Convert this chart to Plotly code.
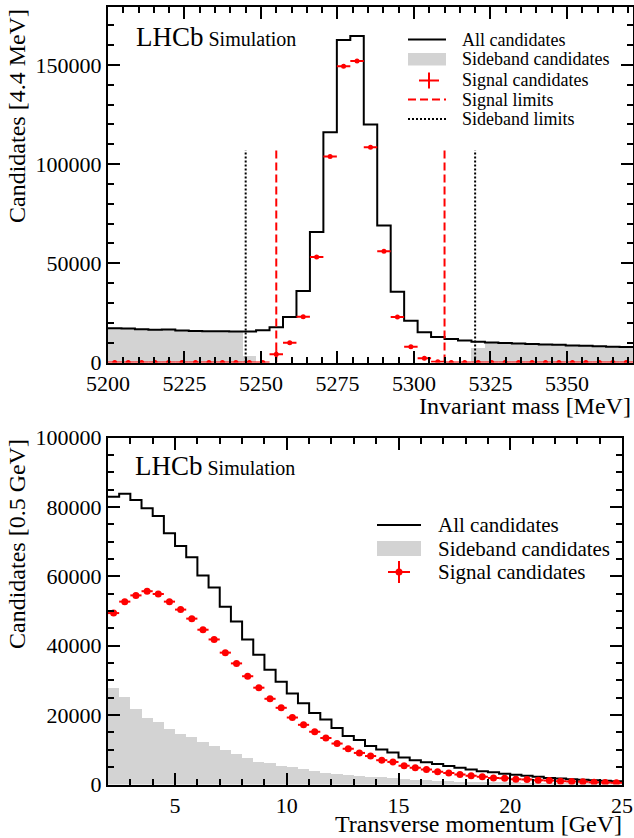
import plotly.graph_objects as go

W, H = 634, 838
FONT = "Liberation Serif"

# ---------------- data: top panel (invariant mass, 4.4 MeV bins) ----------------
mass_first_edge = 5200.0
mass_bin_width = 4.4
mass_all = [17300, 17100, 16700, 16500, 16600, 16100, 15900, 15800, 15700, 15600,
            15600, 16200, 17800, 22900, 36000, 65800, 116000, 162500, 164500, 120000,
            69000, 35600, 21000, 15200, 12800, 11800, 11100, 10500, 10100, 9800,
            9600, 9300, 9100, 8900, 8600, 8400, 8200, 8000, 7800]
mass_sideband = [17300, 17100, 16700, 16500, 16600, 16100, 15900, 15800, 15700, 15600,
                 3200, 0, 0, 0, 0, 0, 0, 0, 0, 0,
                 0, 0, 0, 0, 0, 0, 0, 7000, 10100, 9800,
                 9600, 9300, 9100, 8900, 8600, 8400, 8200, 8000, 7800]
mass_signal = [0, 0, 0, 0, 0, 0, 0, 0, 0, 0,
               0, 0, 4200, 10000, 23100, 53200, 103800, 149300, 151900, 108500,
               56100, 22900, 8000, 2200, 400, 0, 0, 0, 0, 0,
               0, 0, 0, 0, 0, 0, 0, 0, 0]
mass_signal_err = [0, 0, 0, 0, 0, 0, 0, 0, 0, 0,
                   0, 0, 2000, 500, 500, 600, 800, 900, 900, 800,
                   600, 500, 400, 300, 200, 0, 0, 0, 0, 0,
                   0, 0, 0, 0, 0, 0, 0, 0, 0]
signal_limits = [5255, 5310]
sideband_limits = [5245, 5320]
limit_line_height = 107000
mass_range = [5200, 5371.6]
mass_yrange = [0, 179000]

# ---------------- data: bottom panel (transverse momentum, 0.5 GeV bins) ----------------
pt_first_edge = 2.0
pt_bin_width = 0.5
pt_all = [82900, 83800, 82000, 79600, 77400, 72400, 68700, 65500, 60200, 56800,
          51200, 47000, 41800, 37400, 33100, 29600, 26200, 23400, 20600, 18700,
          16300, 14000, 12800, 11100, 10100, 9200, 7800, 7000, 6400, 5900,
          5300, 4800, 4300, 3800, 3500, 3100, 2800, 2500, 2200, 1900,
          1700, 1500, 1350, 1200, 1050, 950]
pt_sideband = [27900, 25500, 21800, 19300, 18200, 16100, 14600, 13700, 12400, 11200,
               10200, 8900, 7900, 6600, 6200, 5500, 5100, 4500, 3900, 3500,
               3200, 2900, 2600, 2400, 2200, 1900, 1600, 1400, 1300, 1200,
               1100, 1000, 950, 900, 850, 800, 750, 700, 650, 600,
               550, 500, 480, 450, 420, 400]
pt_signal = [49400, 52700, 54500, 55700, 54900, 52700, 50400, 47800, 44600, 41800,
             38000, 34900, 31200, 27900, 24700, 22100, 19300, 17200, 15200, 13400,
             11800, 10300, 9100, 8200, 7000, 6500, 5400, 4800, 4300, 3700,
             3300, 2900, 2500, 2200, 1900, 1800, 1500, 1450, 1250, 1150,
             960, 860, 770, 670, 580, 480]
pt_range = [2, 25]
pt_yrange = [0, 100000]

# ---------------- helpers ----------------
def edges(first, width, n):
    return [first + width * i for i in range(n + 1)]

def centers(first, width, n):
    return [first + width * (i + 0.5) for i in range(n)]

def step_xy(first, width, vals):
    e = edges(first, width, len(vals))
    return e, list(vals) + [vals[-1]]

def px(x):
    return x / W

def py(y):
    return 1 - y / H

GRAY = "#d3d3d3"
RED = "#ff0000"

fig = go.Figure()

# ---- top panel traces ----
n_m = len(mass_all)
mc = centers(mass_first_edge, mass_bin_width, n_m)
fig.add_trace(go.Bar(x=mc, y=mass_sideband, width=mass_bin_width, marker=dict(color=GRAY, line=dict(width=0)),
                     xaxis="x", yaxis="y", showlegend=False))
sx, sy = step_xy(mass_first_edge, mass_bin_width, mass_all)
fig.add_trace(go.Scatter(x=sx, y=sy, mode="lines", line=dict(color="black", width=2, shape="hv"),
                         xaxis="x", yaxis="y", showlegend=False))
for v in signal_limits:
    fig.add_trace(go.Scatter(x=[v, v], y=[0, limit_line_height], mode="lines",
                             line=dict(color=RED, width=2, dash="8px,4px"),
                             xaxis="x", yaxis="y", showlegend=False))
for v in sideband_limits:
    fig.add_trace(go.Scatter(x=[v, v], y=[0, limit_line_height], mode="lines",
                             line=dict(color="black", width=2, dash="2px,2px"),
                             xaxis="x", yaxis="y", showlegend=False))
fig.add_trace(go.Scatter(x=mc, y=mass_signal, mode="markers",
                         marker=dict(color=RED, size=5),
                         error_x=dict(type="constant", value=mass_bin_width / 2, color=RED, thickness=2, width=0),
                         error_y=dict(type="data", array=mass_signal_err, color=RED, thickness=2, width=0),
                         xaxis="x", yaxis="y", showlegend=False))

# ---- bottom panel traces ----
n_p = len(pt_all)
pc = centers(pt_first_edge, pt_bin_width, n_p)
fig.add_trace(go.Bar(x=pc, y=pt_sideband, width=pt_bin_width, marker=dict(color=GRAY, line=dict(width=0)),
                     xaxis="x2", yaxis="y2", showlegend=False))
sx, sy = step_xy(pt_first_edge, pt_bin_width, pt_all)
fig.add_trace(go.Scatter(x=sx, y=sy, mode="lines", line=dict(color="black", width=2, shape="hv"),
                         xaxis="x2", yaxis="y2", showlegend=False))
fig.add_trace(go.Scatter(x=pc, y=pt_signal, mode="markers",
                         marker=dict(color=RED, size=7),
                         error_x=dict(type="constant", value=pt_bin_width / 2, color=RED, thickness=2, width=0),
                         xaxis="x2", yaxis="y2", showlegend=False))

# ---- axes ----
def axis(**kw):
    d = dict(showline=True, linecolor="black", linewidth=2, mirror="ticks",
             ticks="inside", ticklen=12, tickwidth=1.5, tickcolor="black",
             showgrid=False, zeroline=False, automargin=False,
             tickfont=dict(family=FONT, size=22, color="black"),
             minor=dict(ticks="inside", ticklen=6, tickwidth=1.5, tickcolor="black", showgrid=False))
    minor_dtick = kw.pop("minor_dtick")
    d["minor"]["dtick"] = minor_dtick
    d.update(kw)
    return d

fig.update_layout(
    template="none",
    xaxis=axis(domain=[px(108), px(633)], anchor="y", range=mass_range, tick0=5200, dtick=25, minor_dtick=5),
    yaxis=axis(domain=[py(362.5), py(7.3)], anchor="x", range=mass_yrange, dtick=50000,
               minor_dtick=10000, tickformat="d"),
    xaxis2=axis(domain=[px(108), px(622)], anchor="y2", range=pt_range, tick0=0, dtick=5, minor_dtick=1),
    yaxis2=axis(domain=[py(784.5), py(437.5)], anchor="x2", range=pt_yrange, dtick=20000,
                minor_dtick=5000, tickformat="d"),
    width=W, height=H, margin=dict(l=0, r=0, t=0, b=0, pad=0),
    paper_bgcolor="white", plot_bgcolor="white", bargap=0, showlegend=False,
    font=dict(family=FONT, color="black"),
)

ann = []
shapes = []

def text(x, y, s, size, xanchor="left", yanchor="middle", angle=0):
    ann.append(dict(x=px(x), y=py(y), xref="paper", yref="paper", text=s, showarrow=False,
                    xanchor=xanchor, yanchor=yanchor, textangle=angle,
                    font=dict(family=FONT, size=size, color="black")))

def line(x0, y0, x1, y1, color="black", width=2, dash="solid"):
    shapes.append(dict(type="line", xref="paper", yref="paper", x0=px(x0), y0=py(y0), x1=px(x1), y1=py(y1),
                       line=dict(color=color, width=width, dash=dash)))

def rect(x0, y0, x1, y1, color):
    shapes.append(dict(type="rect", xref="paper", yref="paper", x0=px(x0), y0=py(y0), x1=px(x1), y1=py(y1),
                       fillcolor=color, line=dict(width=0)))

# axis titles
text(17, 7, "Candidates [4.4 MeV]", 24, xanchor="center", yanchor="top", angle=-90)
text(633, 406, "Invariant mass [MeV]", 24, xanchor="right")
text(17, 437, "Candidates [0.5 GeV]", 24, xanchor="center", yanchor="top", angle=-90)
text(624, 824, "Transverse momentum [GeV]", 24, xanchor="right")

# LHCb labels
text(134, 37, "LHCb<span style='font-size:20px'> Simulation</span>", 27)
text(133, 466, "LHCb<span style='font-size:20px'> Simulation</span>", 27)

# top legend
lx0, lx1, tx = 408, 446, 460
line(lx0, 39.5, lx1, 39.5)
rect(lx0, 53, lx1, 65.5, GRAY)
line(419, 80.5, 439, 80.5, RED)
line(429, 72.5, 429, 88.5, RED)
line(lx0, 99.5, lx1, 99.5, RED, dash="8px,4px")
line(lx0, 119, lx1, 119, "black", dash="2px,2px")
for yy, s in zip([39.5, 59.5, 80, 99.5, 119], ["All candidates", "Sideband candidates", "Signal candidates",
                                               "Signal limits", "Sideband limits"]):
    text(tx, yy, s, 18)

# bottom legend
bx0, bx1, btx = 377, 421, 436
line(bx0, 525, bx1, 525)
rect(bx0, 541, bx1, 556, GRAY)
line(388, 572, 410, 572, RED)
line(399, 561, 399, 583, RED)
shapes.append(dict(type="circle", xref="paper", yref="paper", x0=px(395.5), y0=py(575.5), x1=px(402.5), y1=py(568.5),
                   fillcolor=RED, line=dict(width=0)))
for yy, s in zip([525, 548.5, 572], ["All candidates", "Sideband candidates", "Signal candidates"]):
    text(btx, yy, s, 21)

fig.update_layout(annotations=ann, shapes=shapes)
fig.write_html("out.html")
